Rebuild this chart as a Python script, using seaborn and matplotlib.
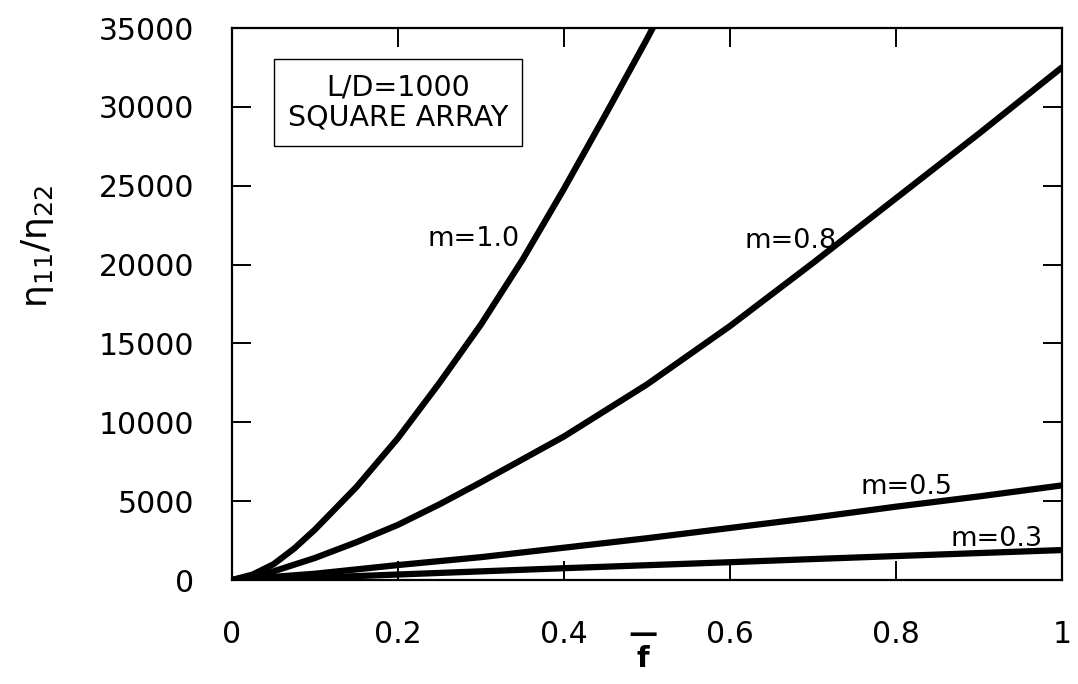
import numpy as np
import pandas as pd
import matplotlib
matplotlib.use("Agg")
import matplotlib.pyplot as plt
import seaborn as sns

# ---- data ----
f_m10 = [0.0, 0.025, 0.05, 0.075, 0.10, 0.15, 0.20, 0.25, 0.30, 0.35, 0.40, 0.45, 0.50, 0.52]
eta_m10 = [0, 350, 1000, 2000, 3200, 5900, 9000, 12500, 16200, 20300, 24800, 29500, 34300, 36300]

f_m08 = [0.0, 0.05, 0.1, 0.15, 0.2, 0.25, 0.3, 0.4, 0.5, 0.6, 0.7, 0.8, 0.9, 1.0]
eta_m08 = [0, 550, 1400, 2400, 3500, 4800, 6200, 9100, 12400, 16100, 20100, 24200, 28300, 32500]

f_m05 = [0.0, 0.1, 0.2, 0.3, 0.4, 0.5, 0.6, 0.7, 0.8, 0.9, 1.0]
eta_m05 = [0, 400, 950, 1450, 2050, 2650, 3300, 3950, 4650, 5300, 6000]

f_m03 = [0.0, 0.1, 0.2, 0.3, 0.4, 0.5, 0.6, 0.7, 0.8, 0.9, 1.0]
eta_m03 = [0, 150, 350, 550, 750, 940, 1130, 1330, 1520, 1710, 1900]

series_names = ["m=1.0", "m=0.8", "m=0.5", "m=0.3"]
x_ticks = [0, 0.2, 0.4, 0.6, 0.8, 1.0]
x_tick_labels = ["0", "0.2", "0.4", "0.6", "0.8", "1"]
y_ticks = [0, 5000, 10000, 15000, 20000, 25000, 30000, 35000]
y_tick_labels = ["0", "5000", "10000", "15000", "20000", "25000", "30000", "35000"]
box_text = "L/D=1000\nSQUARE ARRAY"

# ---- long-form table ----
frames = []
for name, fx, ey in zip(series_names, [f_m10, f_m08, f_m05, f_m03],
                        [eta_m10, eta_m08, eta_m05, eta_m03]):
    frames.append(pd.DataFrame({"f": fx, "eta": ey, "m": name}))
df = pd.concat(frames, ignore_index=True)

sns.set_theme(style="ticks")
plt.rcParams["font.family"] = ["DejaVu Sans"]
plt.rcParams["mathtext.fontset"] = "dejavusans"
plt.rcParams["text.color"] = "black"
plt.rcParams["axes.labelcolor"] = "black"
plt.rcParams["xtick.color"] = "black"
plt.rcParams["ytick.color"] = "black"

fig = plt.figure(figsize=(10.78, 6.84), dpi=100)
ax = fig.add_axes([0.2152, 0.152, 0.7698, 0.807])

sns.lineplot(data=df, x="f", y="eta", units="m", estimator=None, sort=False,
             color="black", linewidth=4.5, legend=False, ax=ax)

ax.set_xlim(0, 1)
ax.set_ylim(0, 35000)
ax.set_xticks(x_ticks)
ax.set_xticklabels(x_tick_labels)
ax.set_yticks(y_ticks)
ax.set_yticklabels(y_tick_labels)

for sp in ax.spines.values():
    sp.set_visible(True)
    sp.set_linewidth(1.6)
    sp.set_color("black")

ax.tick_params(direction="in", length=14, width=1.4, top=True, right=True,
               labelsize=21.5, colors="black")
ax.tick_params(axis="x", pad=29)
ax.tick_params(axis="y", pad=27)

# axis labels
ax.set_ylabel(r"$\mathregular{\eta_{11}/\eta_{22}}$", fontsize=26, color="black")
ax.yaxis.set_label_coords(-0.212, 0.605)
ax.set_xlabel("\u2014\nf", fontsize=21, fontweight="bold", linespacing=0.85,
              color="black")
ax.xaxis.set_label_coords(0.495, -0.073)

# curve labels
ax.text(0.347, 21600, "m=1.0", ha="right", va="center", fontsize=19.5)
ax.text(0.618, 21500, "m=0.8", ha="left", va="center", fontsize=19.5)
ax.text(0.757, 5930, "m=0.5", ha="left", va="center", fontsize=19.5)
ax.text(0.977, 2600, "m=0.3", ha="right", va="center", fontsize=19.5)

# annotation box
ax.text(0.2, 0.865, box_text, transform=ax.transAxes, ha="center", va="center",
        fontsize=20.5, linespacing=1.1,
        bbox=dict(boxstyle="square,pad=0.5", facecolor="white",
                  edgecolor="black", linewidth=1.0))

fig.savefig("out.png", dpi=100, facecolor="white")
